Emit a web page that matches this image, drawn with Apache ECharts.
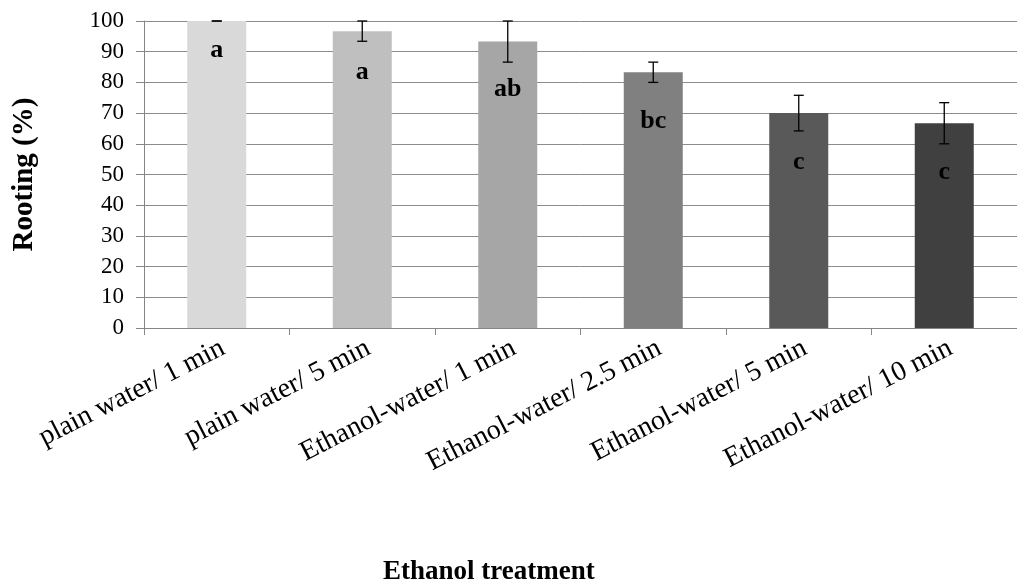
<!DOCTYPE html>
<html>
<head>
<meta charset="utf-8">
<script src="https://cdn.jsdelivr.net/npm/echarts@6/dist/echarts.min.js"></script>
<style>
  html, body { margin: 0; padding: 0; background: #fff; }
  #chart { width: 1017px; height: 584px; }
</style>
</head>
<body>
<div id="chart"></div>
<script>
// data
var categories = ['plain water/ 1 min', 'plain water/ 5 min', 'Ethanol-water/ 1 min',
  'Ethanol-water/ 2.5 min', 'Ethanol-water/ 5 min', 'Ethanol-water/ 10 min'];
var rooting = [100, 96.7, 93.3, 83.3, 70, 66.7];
var errors = [0, 3.3, 6.7, 3.3, 5.8, 6.7];
var letters = ['a', 'a', 'ab', 'bc', 'c', 'c'];

// styles kept apart from the data
var barColors = ['#d9d9d9', '#bfbfbf', '#a6a6a6', '#808080', '#595959', '#404040'];
var letterGap = [16, 28, 35, 36, 36, 36];
var serif = '"Liberation Serif", "Times New Roman", serif';

var chart = echarts.init(document.getElementById('chart'));

var barData = rooting.map(function(v, i) {
  return {
    value: v,
    itemStyle: { color: barColors[i] },
    label: { formatter: letters[i], distance: letterGap[i] }
  };
});

var errData = rooting.map(function(v, i) {
  return [i, v - errors[i], v + errors[i]];
});

chart.setOption({
  animation: false,
  grid: { left: 144, right: -10, top: 21, bottom: 256, containLabel: false },
  graphic: [{
    type: 'text',
    left: 383,
    top: 559,
    style: {
      text: 'Ethanol treatment',
      font: 'bold 27px ' + serif,
      fill: '#000'
    }
  }],
  xAxis: {
    type: 'category',
    data: categories,
    axisLine: { lineStyle: { color: '#868686', width: 1 } },
    axisTick: { show: true, length: 7, alignWithLabel: false, lineStyle: { color: '#868686' } },
    axisLabel: {
      rotate: 27, margin: 6, verticalAlign: 'top',
      fontFamily: serif, fontSize: 28, color: '#000', interval: 0
    },
    splitLine: { show: false }
  },
  yAxis: {
    type: 'value',
    min: 0,
    max: 100,
    interval: 10,
    name: 'Rooting (%)',
    nameLocation: 'middle',
    nameGap: 105,
    nameRotate: 90,
    nameTextStyle: { fontFamily: serif, fontSize: 29, fontWeight: 'bold', color: '#000' },
    axisLine: { show: true, lineStyle: { color: '#868686', width: 1 } },
    axisTick: { show: true, length: 8, lineStyle: { color: '#868686' } },
    axisLabel: { margin: 20, fontFamily: serif, fontSize: 23, color: '#000' },
    splitLine: { show: true, lineStyle: { color: '#8c8c8c', width: 1 } }
  },
  series: [
    {
      type: 'bar',
      data: barData,
      barWidth: 59,
      label: {
        show: true,
        position: 'insideTop',
        fontFamily: serif,
        fontSize: 26,
        fontWeight: 'bold',
        color: '#000'
      }
    },
    {
      type: 'custom',
      data: errData,
      z: 10,
      renderItem: function(params, api) {
        var i = api.value(0);
        var lo = api.coord([i, api.value(1)]);
        var hi = api.coord([i, api.value(2)]);
        var hw = 5;
        var style = { stroke: '#000', lineWidth: 1.3 };
        return {
          type: 'group',
          children: [
            { type: 'line', shape: { x1: lo[0], y1: lo[1], x2: hi[0], y2: hi[1] }, style: style },
            { type: 'line', shape: { x1: lo[0] - hw, y1: lo[1], x2: lo[0] + hw, y2: lo[1] }, style: style },
            { type: 'line', shape: { x1: hi[0] - hw, y1: hi[1], x2: hi[0] + hw, y2: hi[1] }, style: style }
          ]
        };
      }
    }
  ]
});
</script>
</body>
</html>
